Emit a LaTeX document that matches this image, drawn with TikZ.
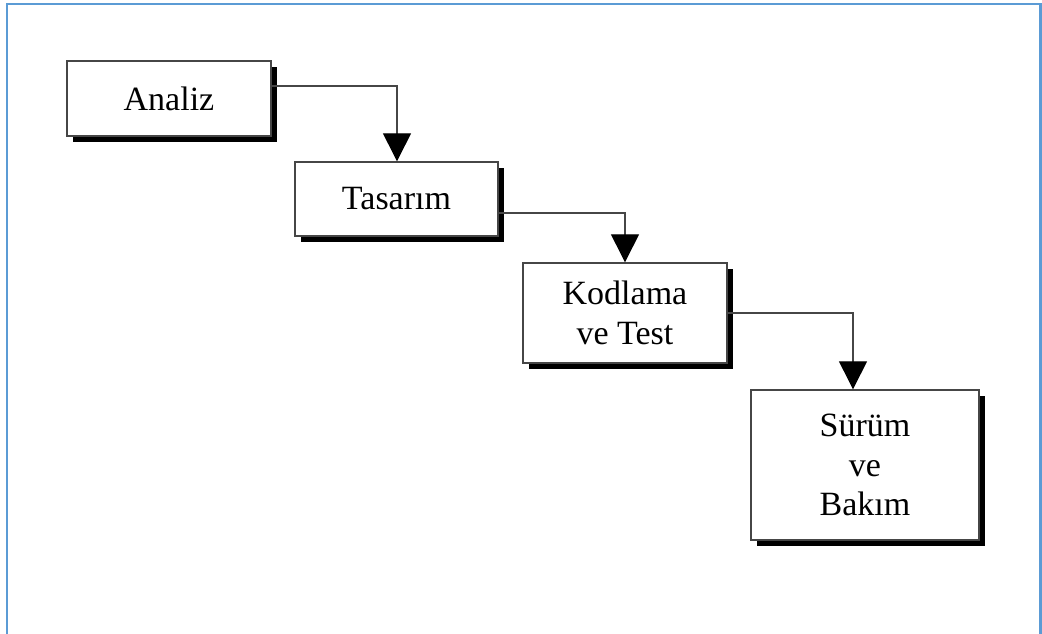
\documentclass[tikz,border=0pt]{standalone}
\usepackage{fontspec}
\setmainfont{Liberation Serif}
\usetikzlibrary{arrows.meta,shadows}
\definecolor{framebl}{RGB}{91,155,213}
\definecolor{edgegray}{RGB}{70,70,70}
\tikzset{
  phase/.style={draw=edgegray, line width=1.4pt, fill=white, align=center,
    inner sep=0pt, font=\fontsize{34}{39.5}\selectfont,
    drop shadow={shadow xshift=5.5pt, shadow yshift=-6pt, fill=black, opacity=1}},
  flow/.style={draw=edgegray, line width=1.3pt,
    -{Triangle[width=28pt,length=28pt,fill=black,color=black]}}
}
\begin{document}
\begin{tikzpicture}[x=1pt,y=-1pt]
\useasboundingbox (0,0) rectangle (1042,633);
\fill[white] (0,0) rectangle (1042,633);
% outer frame, open at the bottom edge
\draw[framebl, line width=2.2pt] (7,660) -- (7,4) -- (1040.5,4) -- (1040.5,660);

\node[phase, minimum width=204pt, minimum height=75pt] (an) at (169,98.5) {Analiz};
\node[phase, minimum width=203pt, minimum height=74pt] (ta) at (396.5,199) {Tasarım};
\node[phase, minimum width=204pt, minimum height=100pt] (ko) at (625,313) {Kodlama\\ve Test};
\node[phase, minimum width=228pt, minimum height=150pt] (su) at (865,465) {Sürüm\\ve\\Bakım};

\coordinate (c1) at (397,86);
\coordinate (c2) at (625,213);
\coordinate (c3) at (853,313);
\draw[flow] (an.east |- c1) -- (c1) -- (c1 |- ta.north);
\draw[flow] (ta.east |- c2) -- (c2) -- (c2 |- ko.north);
\draw[flow] (ko.east |- c3) -- (c3) -- (c3 |- su.north);
\end{tikzpicture}
\end{document}
